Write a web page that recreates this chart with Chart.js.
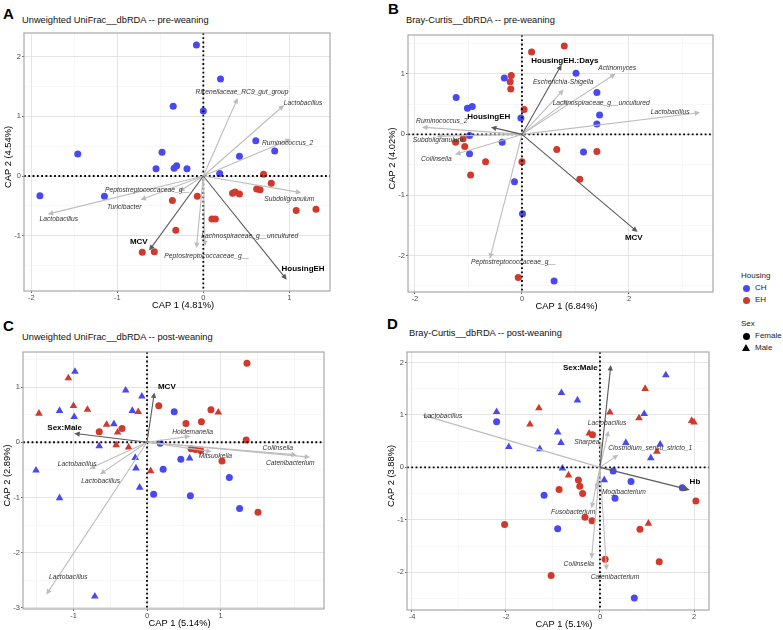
<!DOCTYPE html>
<html>
<head>
<meta charset="utf-8">
<script src="https://cdn.jsdelivr.net/npm/chart.js@4.4.0/dist/chart.umd.min.js"></script>
<style>
  body { margin: 0; background: #fff; font-family: "Liberation Sans", Arial, Helvetica, sans-serif; }
  #page { position: relative; width: 783px; height: 630px; overflow: hidden; background: #fff; }
  canvas { position: absolute; }
  .tag { position: absolute; font-weight: bold; font-size: 15px; line-height: 15px; color: #000; }
  .ptitle { position: absolute; font-size: 9.3px; line-height: 10px; color: #111; white-space: nowrap; }
  .leg { position: absolute; font-size: 8px; line-height: 8px; color: #1a1a1a; white-space: nowrap; }
  .dot { position: absolute; width: 7px; height: 7px; border-radius: 50%; }
  .tri { position: absolute; width: 0; height: 0; border-left: 4px solid transparent; border-right: 4px solid transparent; border-bottom: 7px solid #000; }
</style>
</head>
<body>
<div id="page">
  <div class="tag" style="left:3px;top:6px;">A</div>
  <div class="tag" style="left:388px;top:1px;">B</div>
  <div class="tag" style="left:3px;top:318px;">C</div>
  <div class="tag" style="left:387px;top:316px;">D</div>

  <div class="ptitle" style="left:22px;top:15px;">Unweighted UniFrac__dbRDA -- pre-weaning</div>
  <div class="ptitle" style="left:406px;top:15px;">Bray-Curtis__dbRDA -- pre-weaning</div>
  <div class="ptitle" style="left:22px;top:332px;">Unweighted UniFrac__dbRDA -- post-weaning</div>
  <div class="ptitle" style="left:409px;top:328px;">Bray-Curtis__dbRDA -- post-weaning</div>

  <canvas id="cA"></canvas>
  <canvas id="cB"></canvas>
  <canvas id="cC"></canvas>
  <canvas id="cD"></canvas>

  <div class="leg" style="left:741px;top:272px;">Housing</div>
  <div class="dot" style="left:743px;top:285px;background:#4949F2;"></div>
  <div class="leg" style="left:755px;top:284px;">CH</div>
  <div class="dot" style="left:743px;top:297px;background:#D0392B;"></div>
  <div class="leg" style="left:755px;top:296px;">EH</div>
  <div class="leg" style="left:741px;top:320px;">Sex</div>
  <div class="dot" style="left:743px;top:333px;background:#000;"></div>
  <div class="leg" style="left:755px;top:332px;">Female</div>
  <div class="tri" style="left:742px;top:344px;"></div>
  <div class="leg" style="left:755px;top:344px;">Male</div>
</div>

<script>
// ---- data ----

// A: Unweighted UniFrac, pre-weaning
const A_XLIM = [-2.085, 1.473];
const A_YLIM = [-1.93, 2.40];
const A_XBREAKS = [-2, -1, 0, 1];
const A_YBREAKS = [-1, 0, 1, 2];
const A_CH = [[-0.08, 2.2], [-0.35, 1.17], [-1.46, 0.37], [-0.48, 0.40], [-0.55, 0.12], [-0.34, 0.13],
  [-0.31, 0.17], [-0.19, 0.12], [-1.90, -0.33], [-1.15, -0.34], [0.20, 1.63], [0.0, 1.09],
  [0.61, 0.59], [0.83, 0.42], [0.42, 0.33], [0.19, 0.04]];
const A_EH = [[-0.36, -0.41], [-0.07, -0.34], [-0.32, -0.91], [-0.71, -1.28], [-0.57, -1.27], [0.70, 0.03],
  [0.79, -0.12], [0.34, -0.29], [0.37, -0.27], [0.42, -0.30], [0.62, -0.22], [0.66, -0.23],
  [1.08, -0.58], [1.31, -0.56], [0.10, -0.72], [0.14, -0.72]];
const A_ARROW_NAMES = ['Rikenellaceae_RC9_gut_group', 'Lactobacillus', 'Ruminococcus_2', 'Subdoligranulum',
  'Lachnospiraceae_g__uncultured', 'Peptostreptococcaceae_g__', 'Peptostreptococcaceae_g__', 'Turicibacter',
  'Lactobacillus', 'MCV', 'HousingEH'];
const A_ARROW_TIPS = [[0.40, 1.31], [0.94, 1.19], [1.02, 0.62], [1.14, -0.28], [0.02, -1.18], [-0.08, -1.21],
  [-0.28, -0.26], [-0.73, -0.40], [-1.81, -0.64], [-0.63, -1.25], [0.97, -1.74]];
const A_ARROW_LABELS = [[0.45, 1.40], [1.16, 1.23], [0.98, 0.55], [1.0, -0.39], [0.54, -1.01], [0.04, -1.35],
  [-0.65, -0.24], [-0.92, -0.52], [-1.68, -0.72], [-0.75, -1.10], [1.16, -1.55]];
const A_VARIABLES = ['MCV', 'HousingEH'];

// B: Bray-Curtis, pre-weaning
const B_XLIM = [-2.13, 3.57];
const B_YLIM = [-2.60, 1.64];
const B_XBREAKS = [-2, 0, 2];
const B_YBREAKS = [-2, -1, 0, 1];
const B_CH = [[-0.33, 0.93], [-1.23, 0.61], [-1.02, 0.43], [-0.93, 0.46], [-0.02, 0.27], [-0.98, -0.02],
  [-0.37, -0.13], [-0.98, -0.32], [-0.14, -0.78], [0.01, -1.31], [0.60, -2.42], [1.01, 1.01],
  [1.40, 0.69], [1.45, 0.32], [1.40, 0.17], [1.15, -0.29]];
const B_EH = [[0.18, 1.36], [-0.20, 0.97], [-0.22, 0.87], [-0.21, 0.75], [0.04, 0.41], [0.65, -0.25],
  [-1.10, -0.07], [-1.24, -0.13], [-1.07, -0.20], [-0.68, -0.45], [-0.96, -0.67], [0.0, -0.45],
  [-0.07, -2.36], [0.79, 1.46], [1.40, -0.28], [1.08, -0.74]];
const B_ARROW_NAMES = ['Ruminococcus_2', 'Subdoligranulum', 'Collinsella', 'Peptostreptococcaceae_g__',
  'Lactobacillus', 'Actinomyces', 'Escherichia-Shigella', 'Lachnospiraceae_g__uncultured',
  'HousingEH.:Days', 'HousingEH', 'MCV'];
const B_ARROW_TIPS = [[-1.87, 0.12], [-1.60, -0.03], [-1.25, -0.33], [-0.60, -2.05], [3.33, 0.36], [1.75, 1.0],
  [0.78, 0.74], [0.87, 0.57], [0.74, 1.15], [-0.58, 0.12], [2.16, -1.61]];
const B_ARROW_LABELS = [[-1.50, 0.22], [-1.57, -0.10], [-1.60, -0.41], [-0.16, -2.10], [2.77, 0.36], [1.78, 1.09],
  [0.77, 0.87], [1.48, 0.51], [0.80, 1.21], [-0.62, 0.29], [2.09, -1.71]];
const B_VARIABLES = ['HousingEH.:Days', 'HousingEH', 'MCV'];

// C: Unweighted UniFrac, post-weaning
const C_XLIM = [-1.687, 2.408];
const C_YLIM = [-3.02, 1.634];
const C_XBREAKS = [-1, 0, 1];
const C_YBREAKS = [-3, -2, -1, 0, 1];
const C_CH_F = [[0.37, 0.55], [0.18, -0.02], [0.46, -0.31], [0.22, -0.49], [0.09, -0.94], [0.59, -0.97],
  [1.12, -0.64], [1.26, -1.20]];
const C_CH_M = [[-0.98, 1.28], [-0.29, 0.94], [-0.07, 0.83], [-1.19, 0.57], [-0.20, 0.57], [-0.99, 0.46],
  [-0.45, 0.33], [-0.65, -0.07], [-0.16, -0.28], [-0.15, -0.47], [-1.51, -0.51], [-0.10, -0.82],
  [-1.19, -1.01], [-0.71, -2.79], [0.58, -0.29]];
const C_EH_F = [[-0.65, 0.19], [-0.34, 0.25], [0.16, 0.66], [0.53, 0.34], [0.74, 0.37], [1.36, 1.43],
  [0.87, 0.59], [1.35, 0.04], [1.02, -0.34], [1.51, -1.27], [0.60, -0.12], [0.66, -0.13], [0.73, -0.15]];
const C_EH_M = [[-1.07, 1.16], [-1.0, 0.66], [-0.81, 0.59], [-1.47, 0.52], [-0.12, 0.55], [-0.55, 0.32],
  [-0.40, 0.18], [-0.42, -0.05], [-0.25, -0.09], [0.05, -0.52], [0.97, 0.54]];
const C_ARROW_NAMES = ['Holdemanella', 'Mitsuokella', 'Collinsella', 'Catenibacterium', 'Lactobacillus',
  'Lactobacillus', 'Lactobacillus', 'MCV', 'Sex:Male'];
const C_ARROW_TIPS = [[0.59, 0.11], [0.88, -0.17], [2.04, -0.23], [2.22, -0.27], [-0.78, -0.48], [-0.64, -0.58],
  [-1.37, -2.76], [0.10, 0.90], [-0.99, 0.16]];
const C_ARROW_LABELS = [[0.62, 0.19], [0.93, -0.26], [1.78, -0.10], [1.95, -0.37], [-0.95, -0.39], [-0.63, -0.70],
  [-1.07, -2.44], [0.27, 1.0], [-1.12, 0.26]];
const C_VARIABLES = ['MCV', 'Sex:Male'];

// D: Bray-Curtis, post-weaning
const D_XLIM = [-4.106, 2.319];
const D_YLIM = [-2.72, 2.20];
const D_XBREAKS = [-4, -2, 0, 2];
const D_YBREAKS = [-2, -1, 0, 1, 2];
const D_CH_F = [[-2.20, 0.87], [-1.19, -0.53], [-0.90, -1.17], [0.28, -0.07], [0.66, -0.27], [0.32, -0.59],
  [1.75, -0.39], [0.73, -2.49]];
const D_CH_M = [[-2.20, 1.06], [-1.94, 0.39], [-1.28, 0.35], [-0.90, 0.67], [-0.83, 0.47], [-0.82, 1.42],
  [-0.48, 1.28], [1.40, 1.76], [0.94, 1.02], [0.55, 0.47], [1.28, 0.44], [1.08, 0.18], [-0.80, -0.02],
  [0.09, -0.24]];
const D_EH_F = [[-0.16, 0.62], [-0.46, -0.24], [-0.43, -0.36], [-0.37, -0.50], [-0.87, -0.42], [-0.32, -0.95],
  [-0.17, -1.02], [2.04, -0.64], [0.85, -1.18], [0.11, -1.75], [1.26, -1.80], [-1.04, -2.06], [-2.03, -1.09]];
const D_EH_M = [[-1.30, 1.13], [-1.49, 0.82], [0.96, 1.50], [0.21, 1.05], [0.83, 0.94], [1.95, 0.89],
  [2.0, 0.86], [-0.23, 0.65], [1.21, 0.30], [-0.67, -0.15], [1.03, -1.07]];
const D_ARROW_NAMES = ['Lactobacillus', 'Lactobacillus', 'Sharpea', 'Clostridium_sensu_stricto_1', 'Mogibacterium',
  'Fusobacterium', 'Collinsella', 'Catenibacterium', 'Sex:Male', 'Hb'];
const D_ARROW_TIPS = [[-3.78, 1.0], [0.18, 0.70], [0.02, 0.50], [0.39, 0.24], [-0.08, -0.42], [-0.18, -0.78],
  [-0.18, -1.74], [0.14, -1.96], [0.23, 1.95], [1.91, -0.43]];
const D_ARROW_LABELS = [[-3.34, 0.98], [0.15, 0.84], [-0.28, 0.48], [1.07, 0.36], [0.51, -0.48], [-0.57, -0.86],
  [-0.45, -1.85], [0.32, -2.10], [-0.42, 1.90], [2.02, -0.27]];
const D_VARIABLES = ['Sex:Male', 'Hb'];

// ---- styling ----
const FONT = '"Liberation Sans", Arial, Helvetica, sans-serif';
const CH_COLOR = '#4949F2';
const EH_COLOR = '#D0392B';
const TAXA_ARROW = '#BDBDBD';
const VAR_ARROW = '#5A5A5A';

// grid lines every half break, labels only at the breaks
function gridTicks(lim, breaks) {
  const step = (breaks[1] - breaks[0]) / 2;
  const out = [];
  for (let k = Math.ceil(lim[0] / step); k * step <= lim[1] + 1e-9; k++) {
    out.push({ value: Math.round(k * step * 100) / 100 });
  }
  return out;
}

function isBreak(breaks, v) {
  return breaks.some(b => Math.abs(b - v) < 1e-9);
}

function toXY(pairs) {
  return pairs.map(p => ({ x: p[0], y: p[1] }));
}

function ordinationPlugin(names, tips, labels, variables, xTitle, yTitle) {
  return {
    id: 'ordination',
    afterDatasetsDraw(chart) {
      const { ctx, chartArea: a, scales: { x, y } } = chart;
      const x0 = x.getPixelForValue(0);
      const y0 = y.getPixelForValue(0);
      ctx.save();
      ctx.beginPath();
      ctx.rect(a.left, a.top, a.right - a.left, a.bottom - a.top);
      ctx.clip();

      // dotted zero lines
      ctx.strokeStyle = '#000';
      ctx.lineWidth = 1.8;
      ctx.setLineDash([1.8, 2.5]);
      ctx.beginPath();
      ctx.moveTo(a.left, y0); ctx.lineTo(a.right, y0);
      ctx.moveTo(x0, a.top); ctx.lineTo(x0, a.bottom);
      ctx.stroke();
      ctx.setLineDash([]);

      // arrows: taxa first, then fitted variables on top
      const order = names.map((n, i) => i).sort((i, j) =>
        (variables.includes(names[i]) ? 1 : 0) - (variables.includes(names[j]) ? 1 : 0));
      order.forEach(i => {
        const col = variables.includes(names[i]) ? VAR_ARROW : TAXA_ARROW;
        const tx = x.getPixelForValue(tips[i][0]);
        const ty = y.getPixelForValue(tips[i][1]);
        const ang = Math.atan2(ty - y0, tx - x0);
        const len = 5.5, half = 2.7;
        ctx.strokeStyle = col;
        ctx.fillStyle = col;
        ctx.lineWidth = 1.1;
        ctx.beginPath();
        ctx.moveTo(x0, y0);
        ctx.lineTo(tx - Math.cos(ang) * len * 0.6, ty - Math.sin(ang) * len * 0.6);
        ctx.stroke();
        const bx = tx - Math.cos(ang) * len, by = ty - Math.sin(ang) * len;
        ctx.beginPath();
        ctx.moveTo(tx, ty);
        ctx.lineTo(bx + Math.sin(ang) * half, by - Math.cos(ang) * half);
        ctx.lineTo(bx - Math.sin(ang) * half, by + Math.cos(ang) * half);
        ctx.closePath();
        ctx.fill();
      });

      // labels
      ctx.textAlign = 'center';
      ctx.textBaseline = 'middle';
      names.forEach((n, i) => {
        const lx = x.getPixelForValue(labels[i][0]);
        const ly = y.getPixelForValue(labels[i][1]);
        if (variables.includes(n)) {
          ctx.font = 'bold 8px ' + FONT;
          ctx.fillStyle = '#000';
        } else {
          ctx.font = 'italic 6.7px ' + FONT;
          ctx.fillStyle = '#333';
        }
        ctx.fillText(n, lx, ly);
      });
      ctx.restore();

      // panel border
      ctx.save();
      ctx.strokeStyle = '#A9A9A9';
      ctx.lineWidth = 1.2;
      ctx.strokeRect(a.left, a.top, a.right - a.left, a.bottom - a.top);
      ctx.restore();
    },
    afterDraw(chart) {
      const { ctx, chartArea: a } = chart;
      ctx.save();
      ctx.font = '9.3px ' + FONT;
      ctx.fillStyle = '#000';
      ctx.textAlign = 'center';
      ctx.textBaseline = 'middle';
      ctx.fillText(xTitle, (a.left + a.right) / 2 + 6, a.bottom + 14);
      ctx.translate(a.left - 16, (a.top + a.bottom) / 2 - 5);
      ctx.rotate(-Math.PI / 2);
      ctx.fillText(yTitle, 0, 0);
      ctx.restore();
    }
  };
}

function axisOptions(lim, breaks, horizontal, size) {
  return {
    type: 'linear',
    min: lim[0],
    max: lim[1],
    afterBuildTicks: s => { s.ticks = gridTicks(lim, breaks); },
    afterFit: s => { if (horizontal) s.height = size; else s.width = size; },
    ticks: {
      autoSkip: false,
      maxRotation: 0,
      padding: horizontal ? 0 : 1,
      color: '#4D4D4D',
      font: { family: FONT, size: 7.5 },
      callback: v => isBreak(breaks, v) ? String(Math.round(v)) : ''
    },
    grid: {
      color: c => isBreak(breaks, c.tick.value) ? '#E4E4E4' : '#F1F1F1',
      lineWidth: c => isBreak(breaks, c.tick.value) ? 1 : 0.6,
      tickLength: 2,
      tickColor: c => isBreak(breaks, c.tick.value) ? '#666' : 'rgba(0,0,0,0)'
    },
    border: { display: false }
  };
}

function makePanel(id, box, yw, axes, series, arrows, titles) {
  const canvas = document.getElementById(id);
  const left = box[0] - yw, top = box[1] - 6;
  const w = box[2] + 6 - left, h = box[3] + 22 - top;
  canvas.width = w; canvas.height = h;
  canvas.style.left = left + 'px'; canvas.style.top = top + 'px';
  canvas.style.width = w + 'px'; canvas.style.height = h + 'px';

  const datasets = series.map(s => ({
    data: toXY(s.data),
    pointStyle: s.shape,
    pointRadius: s.shape === 'triangle' ? 4.4 : 3.5,
    pointBackgroundColor: s.color,
    pointBorderWidth: 0,
    showLine: false
  }));

  new Chart(canvas, {
    type: 'scatter',
    data: { datasets },
    options: {
      responsive: false,
      animation: false,
      devicePixelRatio: 1,
      events: [],
      layout: { padding: { top: 6, right: 6, bottom: 2, left: 0 } },
      plugins: { legend: { display: false }, tooltip: { enabled: false } },
      scales: {
        x: axisOptions(axes[0], axes[1], true, 20),
        y: axisOptions(axes[2], axes[3], false, yw)
      }
    },
    plugins: [ordinationPlugin(arrows[0], arrows[1], arrows[2], arrows[3], titles[0], titles[1])]
  });
}

makePanel('cA', [24, 33, 330, 291], 24, [A_XLIM, A_XBREAKS, A_YLIM, A_YBREAKS],
  [{ data: A_CH, color: CH_COLOR, shape: 'circle' }, { data: A_EH, color: EH_COLOR, shape: 'circle' }],
  [A_ARROW_NAMES, A_ARROW_TIPS, A_ARROW_LABELS, A_VARIABLES],
  ['CAP 1 (4.81%)', 'CAP 2 (4.54%)']);

makePanel('cB', [408, 35, 713, 292], 22, [B_XLIM, B_XBREAKS, B_YLIM, B_YBREAKS],
  [{ data: B_CH, color: CH_COLOR, shape: 'circle' }, { data: B_EH, color: EH_COLOR, shape: 'circle' }],
  [B_ARROW_NAMES, B_ARROW_TIPS, B_ARROW_LABELS, B_VARIABLES],
  ['CAP 1 (6.84%)', 'CAP 2 (4.02%)']);

makePanel('cC', [23, 352, 324, 609], 23, [C_XLIM, C_XBREAKS, C_YLIM, C_YBREAKS],
  [{ data: C_CH_F, color: CH_COLOR, shape: 'circle' }, { data: C_CH_M, color: CH_COLOR, shape: 'triangle' },
   { data: C_EH_F, color: EH_COLOR, shape: 'circle' }, { data: C_EH_M, color: EH_COLOR, shape: 'triangle' }],
  [C_ARROW_NAMES, C_ARROW_TIPS, C_ARROW_LABELS, C_VARIABLES],
  ['CAP 1 (5.14%)', 'CAP 2 (2.89%)']);

makePanel('cD', [407, 352, 709, 610], 22, [D_XLIM, D_XBREAKS, D_YLIM, D_YBREAKS],
  [{ data: D_CH_F, color: CH_COLOR, shape: 'circle' }, { data: D_CH_M, color: CH_COLOR, shape: 'triangle' },
   { data: D_EH_F, color: EH_COLOR, shape: 'circle' }, { data: D_EH_M, color: EH_COLOR, shape: 'triangle' }],
  [D_ARROW_NAMES, D_ARROW_TIPS, D_ARROW_LABELS, D_VARIABLES],
  ['CAP 1 (5.1%)', 'CAP 2 (3.88%)']);
</script>
</body>
</html>
